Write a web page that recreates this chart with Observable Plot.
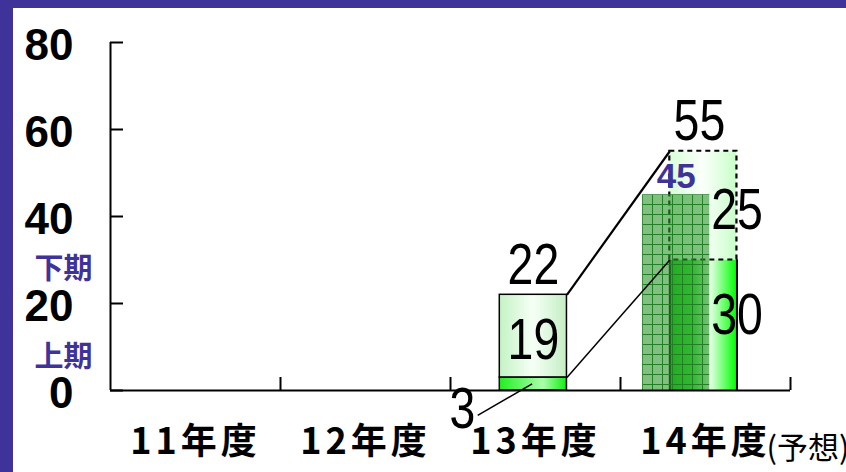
<!DOCTYPE html>
<html><head><meta charset="utf-8">
<script src="https://cdn.jsdelivr.net/npm/d3@7"></script>
<script src="https://cdn.jsdelivr.net/npm/@observablehq/plot@0.6"></script>
<style>
html,body{margin:0;padding:0;background:#fff;}
#wrap{position:relative;width:846px;height:472px;overflow:hidden;background:#fff;}
#wrap svg{display:block;position:absolute;left:0;top:0;}
.bar-top{position:absolute;left:0;top:0;width:846px;height:8px;background:#3f3399;z-index:2;}
.bar-left{position:absolute;left:0;top:0;width:13px;height:472px;background:#3f3399;z-index:2;}
g[aria-label="x-axis tick label"] text{letter-spacing:4px;}
</style></head><body>
<div id="wrap"><div class="bar-top"></div><div class="bar-left"></div></div>
<script>
const categories = ["11年度", "12年度", "13年度", "14年度"];
const firstHalf = [0, 0, 3, 30];          // 上期
const secondHalf = [0, 0, 19, 25];        // 下期
const previousForecast = [0, 0, 0, 45];   // 前回予想
const yTicks = [0, 20, 40, 60, 80];
const halfLabels = ["上期", "下期"];
const forecastNote = "(予想)";

const rows = categories.map((cat, i) => ({
  cat, i, h1: firstHalf[i], h2: secondHalf[i],
  total: firstHalf[i] + secondHalf[i], prev: previousForecast[i]
}));
const r13 = rows.filter(d => d.i === 2);
const r14 = rows.filter(d => d.i === 3);

const L = 0.29, R = 0.685, ML = 0.13, MR = 0.525;
const mid = d => d.i + (L + R) / 2;
const purple = "#3f3399";
const big = {fontFamily: "'Liberation Sans',Arial,sans-serif", fontSize: 58, fill: "#000", lineAnchor: "middle"};

function defsMark() {
  const g = document.createElementNS("http://www.w3.org/2000/svg", "g");
  g.innerHTML = `<defs>
    <linearGradient id="gLow13" x1="0" x2="1" y1="0" y2="0">
      <stop offset="0" stop-color="#22ee22"/><stop offset="0.65" stop-color="#aaffaa"/><stop offset="1" stop-color="#11ee11"/>
    </linearGradient>
    <linearGradient id="gHigh13" x1="0" x2="1" y1="0" y2="0">
      <stop offset="0" stop-color="#c4f2c4"/><stop offset="0.5" stop-color="#f6fff6"/><stop offset="1" stop-color="#c4eec4"/>
    </linearGradient>
    <linearGradient id="gLow14" x1="0" x2="1" y1="0" y2="0">
      <stop offset="0" stop-color="#11cc11"/><stop offset="0.35" stop-color="#33ee33"/><stop offset="0.6" stop-color="#eaffea"/><stop offset="1" stop-color="#00ff00"/>
    </linearGradient>
    <linearGradient id="gHigh14" x1="0" x2="1" y1="0" y2="0">
      <stop offset="0" stop-color="#d8ffd8"/><stop offset="0.5" stop-color="#fbfffb"/><stop offset="1" stop-color="#c8ffc8"/>
    </linearGradient>
    <pattern id="mesh" patternUnits="userSpaceOnUse" width="10" height="10" x="2" y="4">
      <rect width="10" height="10" fill="#2f962f" fill-opacity="0.6"/>
      <path d="M0,0.5H10M0.5,0V10" stroke="#237f23" stroke-width="1" fill="none"/>
    </pattern>
  </defs>`;
  return g;
}

const chart = Plot.plot({
  width: 846, height: 472,
  marginLeft: 110, marginRight: 56, marginTop: 42, marginBottom: 82,
  style: {background: "transparent", overflow: "visible"},
  x: {domain: [0, 4]},
  y: {domain: [0, 80]},
  marks: [
    defsMark,
    // 13年度
    Plot.rectY(r13, {x1: d => d.i + L, x2: d => d.i + R, y1: 0, y2: "h1", fill: "url(#gLow13)", stroke: "#000", strokeWidth: 1.5}),
    Plot.rectY(r13, {x1: d => d.i + L, x2: d => d.i + R, y1: "h1", y2: "total", fill: "url(#gHigh13)", stroke: "#000", strokeWidth: 1.5}),
    // 14年度
    Plot.rectY(r14, {x1: d => d.i + L, x2: d => d.i + R, y1: 0, y2: "h1", fill: "url(#gLow14)"}),
    Plot.ruleX(r14, {x: d => d.i + L, y1: 0, y2: "h1", stroke: "#000", strokeWidth: 2}),
    Plot.ruleX(r14, {x: d => d.i + R, y1: 0, y2: "h1", stroke: "#000", strokeWidth: 2}),
    Plot.rectY(r14, {x1: d => d.i + L, x2: d => d.i + R, y1: "h1", y2: "total", fill: "url(#gHigh14)", stroke: "#000", strokeWidth: 2.2, strokeDasharray: "5,4"}),
    Plot.rectY(r14, {x1: d => d.i + ML, x2: d => d.i + MR, y1: 0, y2: "prev", fill: "url(#mesh)"}),
    // axes
    Plot.ruleY([0], {stroke: "#000", strokeWidth: 2}),
    Plot.ruleX([0], {stroke: "#000", strokeWidth: 2}),
    Plot.axisY({ticks: yTicks, tickSize: -13, text: null, strokeWidth: 2}),
    Plot.axisY({ticks: yTicks, tickSize: 0, tickPadding: 37, fontSize: 44, fontWeight: "bold", fontFamily: "'Liberation Sans',Arial,sans-serif", fill: "#000", dy: 3}),
    Plot.axisX({ticks: [1, 2, 3, 4], tickSize: -13, text: null, strokeWidth: 2}),
    Plot.axisX({ticks: categories.map((c, i) => i + 0.5), tickFormat: v => categories[Math.floor(v)], tickSize: 0, tickPadding: 38, fontSize: 36, fontWeight: "bold", fontFamily: "'Noto Sans CJK JP',sans-serif", fill: "#000"}),
    // connectors
    Plot.link(r14, {x1: d => d.i - 1 + R, y1: d => rows[d.i - 1].total, x2: d => d.i + L, y2: "total", stroke: "#000", strokeWidth: 2.2}),
    Plot.link(r14, {x1: d => d.i - 1 + R, y1: d => rows[d.i - 1].h1, x2: d => d.i + L, y2: "h1", stroke: "#000", strokeWidth: 1.5}),
    Plot.link(r13, {x1: d => d.i + 0.16, y1: -5.7, x2: d => d.i + 0.48, y2: d => d.h1 / 2, stroke: "#000", strokeWidth: 1.5}),
    // value labels
    Plot.text(r13, {x: mid, y: "total", text: d => String(d.total), dy: -29, ...big}),
    Plot.text(r13, {x: mid, y: d => d.h1 + d.h2 / 2, text: d => String(d.h2), dy: 4, ...big}),
    Plot.text(r13, {x: d => d.i + 0.07, y: 0, text: d => String(d.h1), dy: 19, ...big}),
    Plot.text(r14, {x: mid, y: "total", text: d => String(d.total), dx: -4, dy: -30, ...big}),
    Plot.text(r14, {x: d => d.i + R, y: d => d.h1 + d.h2 / 2, text: d => String(d.h2), dy: 5, ...big}),
    Plot.text(r14, {x: d => d.i + R, y: d => d.h1 / 2, text: d => String(d.h1), dy: -10, ...big}),
    Plot.text(r14, {x: d => d.i + (ML + MR) / 2, y: "prev", text: d => String(d.prev), dy: -18, fill: purple, fontSize: 35, fontWeight: "bold", fontFamily: "'Liberation Sans',Arial,sans-serif", lineAnchor: "middle"}),
    Plot.text(r14, {x: d => d.i + 0.5, y: 0, text: () => forecastNote, dx: 61, dy: 59, textAnchor: "start", lineAnchor: "middle", fontSize: 31, fontFamily: "'Noto Sans CJK JP',sans-serif", fill: "#000"}),
    Plot.text(halfLabels, {x: 0, y: (d, i) => [7.6, 27.8][i], text: d => d, dx: -18, textAnchor: "end", lineAnchor: "middle", fill: purple, fontSize: 29, fontWeight: "bold", fontFamily: "'Noto Sans CJK JP',sans-serif"})
  ]
});
// condense the large value digits horizontally (narrow Arial look)
chart.querySelectorAll('g[font-size="58"] text').forEach(t => {
  const tr = t.getAttribute("transform");
  if (tr) {
    t.setAttribute("transform", tr + " scale(0.8,1)");
  } else {
    const x = +t.getAttribute("x") || 0, y = +t.getAttribute("y") || 0;
    t.removeAttribute("x"); t.removeAttribute("y");
    t.setAttribute("transform", `translate(${x},${y}) scale(0.8,1)`);
  }
});
document.getElementById("wrap").prepend(chart);
</script>
</body></html>
